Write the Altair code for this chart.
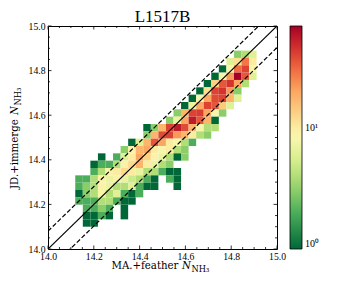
import altair as alt
import pandas as pd

title_text = "L1517B"

major_ticks = [14.0, 14.2, 14.4, 14.6, 14.8, 15.0]
minor_ticks = [14.05, 14.1, 14.15, 14.25, 14.3, 14.35, 14.45, 14.5, 14.55,
               14.65, 14.7, 14.75, 14.85, 14.9, 14.95]

# histogram grid (bin edges)
x_first_edge = 14.119
x_bin_width = 0.033
y_first_edge = 14.100
y_bin_width = 0.0329

# rows of the 2D histogram: row index (from bottom) -> {column index: count}
hist_rows = {
    23: {21: 3, 22: 4, 23: 6},
    22: {20: 6, 21: 12, 22: 28, 23: 10},
    21: {19: 1, 20: 8, 21: 30, 22: 40, 23: 8},
    20: {18: 1, 19: 8, 20: 22, 21: 69, 22: 35, 23: 6},
    19: {17: 1, 18: 14, 19: 35, 20: 45, 21: 20, 22: 4},
    18: {16: 1, 17: 12, 18: 40, 19: 45, 20: 22, 21: 3},
    17: {15: 1, 16: 8, 17: 20, 18: 38, 19: 40, 20: 18, 21: 6},
    16: {14: 1, 15: 7, 16: 20, 17: 40, 18: 35, 19: 15, 20: 6},
    15: {13: 3, 14: 18, 15: 40, 16: 42, 17: 20, 18: 8, 19: 3},
    14: {12: 3, 13: 7, 14: 20, 15: 55, 16: 35, 17: 18, 18: 1},
    13: {9: 1, 10: 3, 11: 18, 12: 40, 13: 55, 14: 38, 15: 18, 16: 8, 17: 4, 18: 4},
    12: {9: 3, 10: 18, 11: 38, 12: 40, 13: 22, 14: 18, 15: 10, 16: 4, 17: 3},
    11: {7: 1, 8: 6, 9: 18, 10: 35, 11: 20, 12: 10, 13: 8, 14: 4, 15: 2},
    10: {6: 3, 7: 9, 8: 18, 9: 20, 10: 10, 11: 8, 12: 10, 13: 4, 14: 3},
    9: {3: 1, 5: 2, 6: 6, 7: 10, 8: 20, 9: 14, 10: 9, 11: 7, 12: 4, 13: 1, 14: 3},
    8: {2: 1, 3: 2, 4: 2, 5: 4, 6: 9, 7: 13, 8: 18, 9: 10, 10: 7, 11: 4, 12: 3},
    7: {2: 2, 3: 4, 4: 9, 5: 10, 6: 13, 7: 10, 8: 7, 9: 4, 10: 4, 11: 2, 12: 1, 13: 1},
    6: {0: 2, 1: 2, 2: 4, 3: 9, 4: 7, 5: 9, 6: 7, 7: 5, 8: 4, 9: 2, 10: 1, 12: 2, 13: 1},
    5: {0: 2, 1: 3, 2: 4, 3: 9, 4: 7, 5: 4, 6: 4, 7: 6, 8: 2, 9: 1, 10: 1, 13: 1},
    4: {0: 1, 1: 3, 2: 4, 3: 8, 4: 4, 5: 6, 6: 2, 7: 1, 8: 2},
    3: {0: 2, 1: 2, 2: 2, 3: 4, 4: 4, 5: 2, 6: 1, 7: 1},
    2: {1: 2, 2: 2, 3: 3, 4: 2, 6: 1},
    1: {1: 1, 2: 1, 3: 2, 4: 1, 6: 1},
    0: {1: 1, 2: 1},
}

line_x = [14.0, 15.0]
upper_offset = 0.08
lower_offset = -0.097

recs = []
for j, cols in hist_rows.items():
    for i, n in cols.items():
        recs.append({
            "x": x_first_edge + i * x_bin_width,
            "x2": x_first_edge + (i + 1) * x_bin_width,
            "y": y_first_edge + j * y_bin_width,
            "y2": y_first_edge + (j + 1) * y_bin_width,
            "n": n,
        })
hist_df = pd.DataFrame(recs)

lines_df = pd.DataFrame(
    [{"x": xv, "y": xv, "kind": "one"} for xv in line_x]
    + [{"x": xv, "y": xv + upper_offset, "kind": "up"} for xv in line_x]
    + [{"x": xv, "y": xv + lower_offset, "kind": "low"} for xv in line_x]
)

FONT = "Liberation Serif"
TFONT = "DejaVu Serif"
W, H = 229, 223

xscale = alt.Scale(domain=[14.0, 15.0], nice=False, zero=False)
yscale = alt.Scale(domain=[14.0, 15.0], nice=False, zero=False)
xaxis = alt.Axis(values=major_ticks, format=".1f", title=None, labelPadding=2.5)
yaxis = alt.Axis(values=major_ticks, format=".1f", title=None, labelPadding=3)

rects = alt.Chart(hist_df).mark_rect(stroke=None).encode(
    x=alt.X("x:Q", scale=xscale, axis=xaxis),
    x2="x2:Q",
    y=alt.Y("y:Q", scale=yscale, axis=yaxis),
    y2="y2:Q",
    color=alt.Color(
        "n:Q",
        scale=alt.Scale(type="log", domain=[1, 69], scheme="redyellowgreen", reverse=True),
        legend=alt.Legend(
            title=None, values=[1, 10], orient="right", direction="vertical",
            gradientLength=H, gradientThickness=12, offset=13,
            gradientStrokeColor="black", gradientStrokeWidth=0.8,
            labelExpr="datum.value == 1 ? '10⁰' : '10¹'",
            labelFont=FONT, labelFontSize=10, labelColor="black", labelOffset=3,
        ),
    ),
)

one = alt.Chart(lines_df).transform_filter("datum.kind == 'one'").mark_line(
    color="black", strokeWidth=1.2, clip=True
).encode(x=alt.X("x:Q", scale=xscale, axis=xaxis), y=alt.Y("y:Q", scale=yscale, axis=yaxis))

dashed = alt.Chart(lines_df).transform_filter("datum.kind != 'one'").mark_line(
    color="black", strokeWidth=1.2, strokeDash=[4.5, 2.2], clip=True
).encode(x=alt.X("x:Q", scale=xscale, axis=xaxis), y=alt.Y("y:Q", scale=yscale, axis=yaxis),
         detail="kind:N")

maj_df = pd.DataFrame({"t": major_ticks})
min_df = pd.DataFrame({"t": minor_ticks})

def tick_layers(df, L):
    base = alt.Chart(df).mark_rule(color="black", strokeWidth=0.8)
    return [
        base.encode(x=alt.X("t:Q", scale=xscale, axis=xaxis), y=alt.value(H), y2=alt.value(H - L)),
        base.encode(x=alt.X("t:Q", scale=xscale, axis=xaxis), y=alt.value(0), y2=alt.value(L)),
        base.encode(y=alt.Y("t:Q", scale=yscale, axis=yaxis), x=alt.value(0), x2=alt.value(L)),
        base.encode(y=alt.Y("t:Q", scale=yscale, axis=yaxis), x=alt.value(W), x2=alt.value(W - L)),
    ]

ticks = tick_layers(maj_df, 3.5) + tick_layers(min_df, 2)

txt_df = pd.DataFrame({"a": [0]})

def label(text, x, y, size, angle=0, italic=False, align="left", font=TFONT):
    return alt.Chart(txt_df).mark_text(
        text=text, font=font, fontSize=size, align=align, baseline="alphabetic",
        angle=angle, fontStyle="italic" if italic else "normal", color="black",
    ).encode(x=alt.value(x), y=alt.value(y))

title_mark = label(title_text, W / 2, -4.5, 17, align="center", font=FONT)

xlab = [
    label("MA.+feather", 63.5, 243, 10.2),
    label("N", 134, 243, 10.2, italic=True),
    label("NH₃", 143.5, 246, 8.3),
]
ylab = [
    label("JD.+immerge", -30.5, 163, 10.2, angle=270),
    label("N", -30.5, 89, 10.2, angle=270, italic=True),
    label("NH₃", -27.5, 79.5, 8.3, angle=270),
]

chart = alt.layer(rects, one, dashed, *ticks, title_mark, *xlab, *ylab).properties(
    width=W, height=H,
    autosize=alt.AutoSizeParams(type="none"),
    padding={"left": 40, "top": 18, "right": 50, "bottom": 25},
).configure_view(stroke="black", strokeWidth=1).configure_axis(
    grid=False, ticks=False, domain=False, labelFont=FONT, labelFontSize=9.7,
    labelColor="black", labelFlush=False,
)

chart.save("out.html", embed_options={"renderer": "svg", "actions": False})
